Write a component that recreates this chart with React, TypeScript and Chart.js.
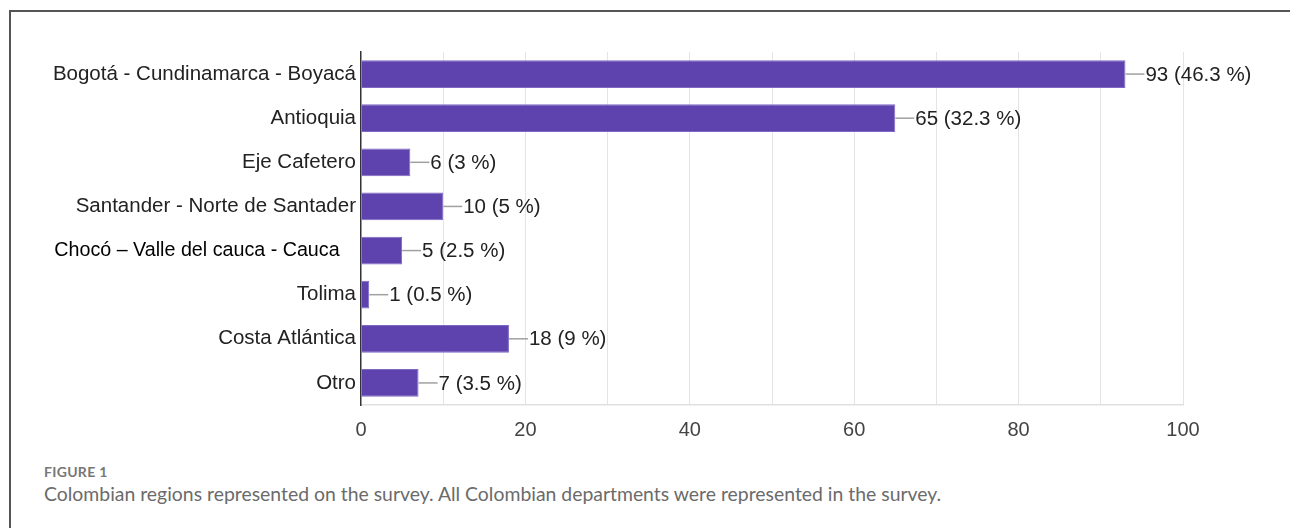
import React, { useEffect, useRef } from "react";
import { Chart, registerables } from "chart.js";

Chart.register(...registerables);

const categories = [
  "Bogotá - Cundinamarca - Boyacá",
  "Antioquia",
  "Eje Cafetero",
  "Santander - Norte de Santader",
  "Chocó – Valle del cauca - Cauca   ",
  "Tolima",
  "Costa Atlántica",
  "Otro",
];
const counts = [93, 65, 6, 10, 5, 1, 18, 7];
const percents = ["46.3", "32.3", "3", "5", "2.5", "0.5", "9", "3.5"];
const xMin = 0;
const xMax = 100;
const xLabelStep = 20;
const xGridStep = 10;

const LABEL_FONT = "'Liberation Sans', Arial, Helvetica, sans-serif";

const valueLabels = {
  id: "valueLabels",
  afterDatasetsDraw(chart: any) {
    const ctx = chart.ctx;
    const meta = chart.getDatasetMeta(0);
    ctx.save();
    meta.data.forEach((bar: any, i: number) => {
      const x = bar.x;
      const y = bar.y;
      ctx.strokeStyle = "#a0a0a0";
      ctx.lineWidth = 1.5;
      ctx.beginPath();
      ctx.moveTo(x, y);
      ctx.lineTo(x + 19, y);
      ctx.stroke();
      ctx.fillStyle = "#222";
      ctx.font = `20.5px ${LABEL_FONT}`;
      ctx.textBaseline = "middle";
      ctx.textAlign = "left";
      ctx.fillText(`${counts[i]} (${percents[i]} %)`, x + 20, y + 1);
    });
    ctx.restore();
  },
};

export default function App() {
  const ref = useRef<HTMLCanvasElement | null>(null);

  useEffect(() => {
    if (!ref.current) return;
    const chart = new Chart(ref.current, {
      type: "bar",
      data: {
        labels: categories,
        datasets: [
          {
            data: counts,
            backgroundColor: "#5E43AE",
            borderColor: "#7d68c4",
            borderWidth: 1,
            barPercentage: 0.63,
            categoryPercentage: 1,
          },
        ],
      },
      options: {
        indexAxis: "y",
        animation: false,
        responsive: false,
        maintainAspectRatio: false,
        layout: { padding: { left: 0, right: 107, top: 52, bottom: 0 } },
        plugins: {
          legend: { display: false },
          tooltip: { enabled: false },
        },
        scales: {
          x: {
            min: xMin,
            max: xMax,
            afterFit: (s: any) => {
              s.height = 40;
            },
            ticks: {
              stepSize: xGridStep,
              autoSkip: false,
              maxRotation: 0,
              padding: 13,
              color: "#444",
              font: { family: LABEL_FONT, size: 20 },
              callback: (v: any) => (Number(v) % xLabelStep === 0 ? String(v) : ""),
            },
            grid: {
              drawTicks: false,
              color: (c: any) => (c.index === 0 ? "rgba(0,0,0,0)" : "#e4e4e4"),
              lineWidth: 1,
            },
            border: { display: true, color: "#e0e0e0", width: 1.5 },
          },
          y: {
            afterFit: (s: any) => {
              s.width = 361;
            },
            ticks: {
              padding: 5,
              autoSkip: false,
              color: (c: any) => (c.index === 4 ? "#000" : "#222"),
              font: (c: any) => ({ family: LABEL_FONT, size: c.index === 4 ? 19.7 : 20.5 }),
            },
            grid: { display: false, drawTicks: false },
            border: { display: true, color: "#333", width: 1.5 },
          },
        },
      },
      plugins: [valueLabels],
    });
    return () => chart.destroy();
  }, []);

  return (
    <div
      style={{
        position: "fixed",
        left: 0,
        top: 0,
        width: 1290,
        height: 528,
        overflow: "hidden",
        background: "#fff",
      }}
    >
      <div
        style={{
          position: "absolute",
          left: 9,
          top: 10,
          width: 1300,
          height: 540,
          borderTop: "2px solid #555",
          borderLeft: "2px solid #555",
        }}
      />
      <canvas
        ref={ref}
        width={1290}
        height={445}
        style={{ position: "absolute", left: 0, top: 0, width: 1290, height: 445 }}
      />
      <div
        style={{
          position: "absolute",
          left: 44,
          top: 463,
          fontFamily: "Lato, 'Open Sans', sans-serif",
          fontWeight: 700,
          fontSize: 14,
          color: "#777",
          letterSpacing: 0.3,
        }}
      >
        FIGURE 1
      </div>
      <div
        style={{
          position: "absolute",
          left: 44,
          top: 482,
          lineHeight: "24px",
          fontFamily: "Lato, 'Open Sans', sans-serif",
          fontSize: 19.4,
          color: "#6b6b6b",
          whiteSpace: "nowrap",
        }}
      >
        Colombian regions represented on the survey. All Colombian departments were represented in the survey.
      </div>
    </div>
  );
}
